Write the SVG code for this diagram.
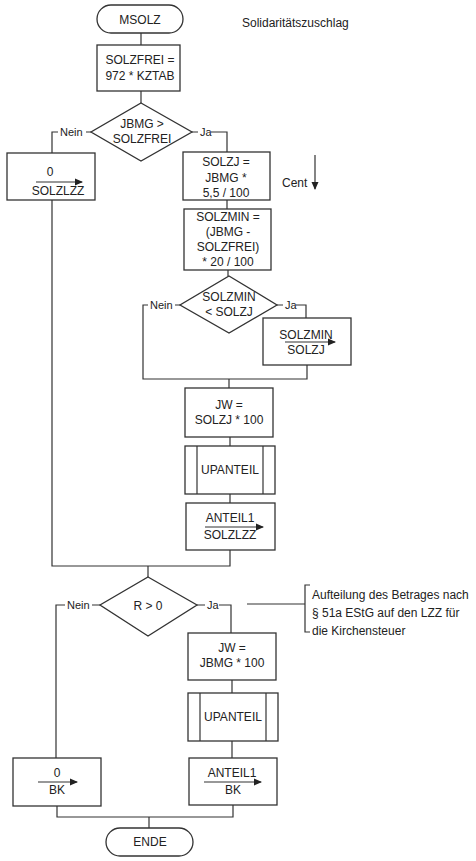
<svg xmlns="http://www.w3.org/2000/svg" width="476" height="861" viewBox="0 0 476 861">
<defs>
<marker id="ah" markerWidth="8" markerHeight="8" refX="7" refY="4" orient="auto" markerUnits="userSpaceOnUse">
<path d="M0,0.5 L8,4 L0,7.5 Z" fill="#222"/>
</marker>
<style>
.box{fill:#fff;stroke:#333;stroke-width:1.3}
.ln{fill:none;stroke:#333;stroke-width:1.2}
.t{font-family:"Liberation Sans",Arial,sans-serif;font-size:12px;fill:#222;text-anchor:middle}
.lb{font-family:"Liberation Sans",Arial,sans-serif;font-size:11px;fill:#222}
.ann{font-family:"Liberation Sans",Arial,sans-serif;font-size:12px;fill:#222}
</style>
</defs>
<rect width="476" height="861" fill="#fff"/>

<g id="connectors">
<path class="ln" d="M141,33 V45"/>
<path class="ln" d="M141,91 V103"/>
<path class="ln" d="M91,132 H86 M58,132 H52 V153"/>
<path class="ln" d="M192,132 H198 M211,132 H227 V152"/>
<path class="ln" d="M227,200 V209"/>
<path class="ln" d="M228,270 V276"/>
<path class="ln" d="M180,305 H175 M148,305 H143 V379 H307 V365"/>
<path class="ln" d="M277,305 H283 M296,305 H306 V318"/>
<path class="ln" d="M229,379 V388"/>
<path class="ln" d="M230,437 V446"/>
<path class="ln" d="M230,494 V503"/>
<path class="ln" d="M52,200 V566 H230 V550"/>
<path class="ln" d="M148,566 V577"/>
<path class="ln" d="M100,605 H92 M65,605 H56 V758"/>
<path class="ln" d="M197,605 H205 M219,605 H231 V633"/>
<path class="ln" d="M232,680 V693"/>
<path class="ln" d="M232,741 V758"/>
<path class="ln" d="M57,806 V817 H233 V805"/>
<path class="ln" d="M149,817 V828"/>
<path class="ln" d="M247,604 H305"/>
<path class="ln" d="M310,585 H305 V632 H310"/>
<path class="ln" d="M315,155 V189" marker-end="url(#ah)"/>
</g>

<text class="ann" x="242" y="27">Solidaritätszuschlag</text>
<text class="ann" x="282" y="187">Cent</text>

<g id="labels">
<text class="lb" x="60" y="136">Nein</text>
<text class="lb" x="200" y="136">Ja</text>
<text class="lb" x="150" y="309">Nein</text>
<text class="lb" x="285" y="309">Ja</text>
<text class="lb" x="67" y="609">Nein</text>
<text class="lb" x="207" y="609">Ja</text>
</g>

<g id="n_msolz">
<rect class="box" x="97" y="5" width="86" height="28" rx="14"/>
<text class="t" x="140" y="23.5">MSOLZ</text>
</g>

<g id="n_solzfrei">
<rect class="box" x="97" y="45" width="83" height="46"/>
<text class="t" x="140" y="64">SOLZFREI =</text>
<text class="t" x="140" y="80">972 * KZTAB</text>
</g>

<g id="d_jbmg">
<polygon class="box" points="141,103 192,132 141,161 91,132"/>
<text class="t" x="142" y="128">JBMG &gt;</text>
<text class="t" x="142" y="143">SOLZFREI</text>
</g>

<g id="n_zero_solzlzz">
<rect class="box" x="7" y="153" width="88" height="47"/>
<text class="t" x="50" y="176">0</text>
<line class="ln" x1="36" y1="182" x2="82" y2="182" marker-end="url(#ah)"/>
<text class="t" x="58" y="195">SOLZLZZ</text>
</g>

<g id="n_solzj">
<rect class="box" x="183" y="152" width="87" height="48"/>
<text class="t" x="226" y="166">SOLZJ =</text>
<text class="t" x="226" y="182">JBMG *</text>
<text class="t" x="226" y="197">5,5 / 100</text>
</g>

<g id="n_solzmin">
<rect class="box" x="184" y="209" width="87" height="61"/>
<text class="t" x="228" y="221">SOLZMIN =</text>
<text class="t" x="228" y="236">(JBMG -</text>
<text class="t" x="228" y="251">SOLZFREI)</text>
<text class="t" x="228" y="266">* 20 / 100</text>
</g>

<g id="d_solzmin">
<polygon class="box" points="229,276 277,305 229,333 180,305"/>
<text class="t" x="229" y="301">SOLZMIN</text>
<text class="t" x="229" y="316">&lt; SOLZJ</text>
</g>

<g id="n_solzmin_solzj">
<rect class="box" x="263" y="318" width="88" height="47"/>
<text class="t" x="306" y="339">SOLZMIN</text>
<line class="ln" x1="285" y1="342" x2="335" y2="342" marker-end="url(#ah)"/>
<text class="t" x="306" y="354">SOLZJ</text>
</g>

<g id="n_jw1">
<rect class="box" x="185" y="388" width="88" height="49"/>
<text class="t" x="229" y="409">JW =</text>
<text class="t" x="229" y="424">SOLZJ * 100</text>
</g>

<g id="n_upanteil1">
<rect class="box" x="185" y="446" width="90" height="48"/>
<line class="ln" x1="197" y1="446" x2="197" y2="494"/>
<line class="ln" x1="263" y1="446" x2="263" y2="494"/>
<text class="t" x="230" y="474">UPANTEIL</text>
</g>

<g id="n_anteil1_solzlzz">
<rect class="box" x="186" y="503" width="89" height="47"/>
<text class="t" x="230" y="522">ANTEIL1</text>
<line class="ln" x1="205" y1="527" x2="263" y2="527" marker-end="url(#ah)"/>
<text class="t" x="230" y="539">SOLZLZZ</text>
</g>

<g id="d_r">
<polygon class="box" points="148,577 197,605 148,636 100,605"/>
<text class="t" x="148" y="610">R &gt; 0</text>
</g>

<g id="annotation">
<text class="ann" x="312" y="599">Aufteilung des Betrages nach</text>
<text class="ann" x="312" y="617">§ 51a EStG auf den LZZ für</text>
<text class="ann" x="312" y="635">die Kirchensteuer</text>
</g>

<g id="n_jw2">
<rect class="box" x="188" y="633" width="88" height="47"/>
<text class="t" x="232" y="652">JW =</text>
<text class="t" x="232" y="667">JBMG * 100</text>
</g>

<g id="n_upanteil2">
<rect class="box" x="188" y="693" width="90" height="48"/>
<line class="ln" x1="200" y1="693" x2="200" y2="741"/>
<line class="ln" x1="266" y1="693" x2="266" y2="741"/>
<text class="t" x="233" y="721">UPANTEIL</text>
</g>

<g id="n_zero_bk">
<rect class="box" x="13" y="758" width="88" height="48"/>
<text class="t" x="57" y="777">0</text>
<line class="ln" x1="38" y1="782" x2="77" y2="782" marker-end="url(#ah)"/>
<text class="t" x="57" y="794">BK</text>
</g>

<g id="n_anteil1_bk">
<rect class="box" x="189" y="758" width="88" height="47"/>
<text class="t" x="232" y="777">ANTEIL1</text>
<line class="ln" x1="204" y1="782" x2="261" y2="782" marker-end="url(#ah)"/>
<text class="t" x="233" y="794">BK</text>
</g>

<g id="n_ende">
<rect class="box" x="106" y="828" width="87" height="28" rx="14"/>
<text class="t" x="150" y="846">ENDE</text>
</g>
</svg>
